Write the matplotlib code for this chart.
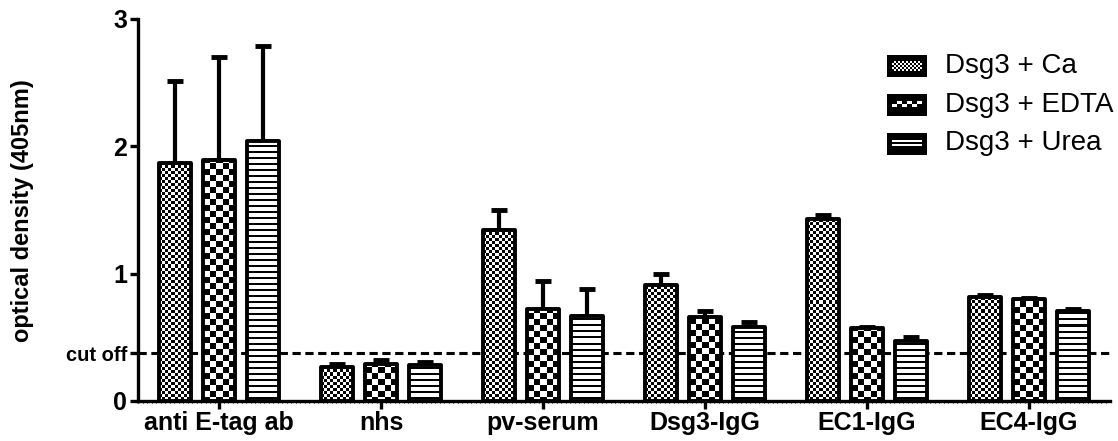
import matplotlib.pyplot as plt
import numpy as np

groups = ['anti E-tag ab', 'nhs', 'pv-serum', 'Dsg3-IgG', 'EC1-IgG', 'EC4-IgG']
series = ['Dsg3 + Ca', 'Dsg3 + EDTA', 'Dsg3 + Urea']
ca = [1.87, 0.27, 1.34, 0.91, 1.43, 0.82]
ca_err = [0.64, 0.02, 0.16, 0.09, 0.03, 0.01]
edta = [1.89, 0.29, 0.72, 0.66, 0.57, 0.80]
edta_err = [0.81, 0.03, 0.22, 0.05, 0.01, 0.01]
urea = [2.04, 0.28, 0.67, 0.58, 0.47, 0.71]
urea_err = [0.75, 0.03, 0.21, 0.04, 0.03, 0.01]
cut_off = 0.375

plt.rcParams['font.family'] = ['Liberation Sans', 'DejaVu Sans']

W, H = 1118, 441
fig = plt.figure(figsize=(W / 100, H / 100), dpi=100)
ax_l, ax_b, ax_r, ax_t = 138, 40, 1110, 422
ax = fig.add_axes([ax_l / W, ax_b / H, (ax_r - ax_l) / W, (ax_t - ax_b) / H])

pw, ph = ax_r - ax_l, ax_t - ax_b
ii, jj = np.mgrid[0:ph, 0:pw]


def checker(c):
    return ((ii // c + jj // c) % 2).astype(float)


def stripes(period, dark):
    return ((ii % period) >= dark).astype(float)


patterns = [checker(3), checker(6), stripes(6, 2)]
values = [ca, edta, urea]
errors = [ca_err, edta_err, urea_err]

x = np.arange(len(groups))
width = 0.2
offsets = [-0.272, 0, 0.272]

ax.axhline(cut_off, color='black', lw=2.2, dashes=(2.7, 1.5), zorder=1)

for k in range(3):
    xs = x + offsets[k]
    ax.errorbar(xs, values[k], yerr=[np.zeros(len(groups)), errors[k]], fmt='none',
                ecolor='black', elinewidth=3, capsize=6, capthick=3.5, zorder=2)
    bars = ax.bar(xs, values[k], width, facecolor='none', edgecolor='black',
                  linewidth=2.8, joinstyle='round', zorder=4)
    for b in bars:
        im = ax.imshow(patterns[k], cmap='gray', vmin=0, vmax=1, extent=(-0.5, 5.5, 0, 3),
                       aspect='auto', interpolation='nearest', origin='upper', zorder=3)
        im.set_clip_path(b)

ax.set_xlim(-0.5, 5.5)
ax.set_ylim(0, 3)

for s in ['top', 'right']:
    ax.spines[s].set_visible(False)
for s in ['left', 'bottom']:
    ax.spines[s].set_linewidth(2.4)

ax.set_xticks(x)
ax.set_xticklabels(groups, fontsize=18, fontweight='bold')
ax.set_xticks(np.arange(-0.5, 5.5, 1 / 36), minor=True)
ax.tick_params(axis='x', which='major', direction='out', length=6, width=2.4, pad=1)
ax.tick_params(axis='x', which='minor', direction='out', length=1.5, width=0.8)

ax.set_yticks([0, cut_off, 1, 2, 3])
ax.set_yticklabels(['0', 'cut off', '1', '2', '3'], fontsize=18, fontweight='bold')
ax.get_yticklabels()[1].set_fontsize(14.5)
ax.tick_params(axis='y', direction='out', length=6, width=2.4, pad=2)

fig.text(23 / W, 1 - 211 / H, 'optical density (405nm)', rotation=90, fontsize=17,
         fontweight='bold', ha='center', va='center')

# legend drawn by hand with small swatch axes
sw_pats = [((np.indices((10, 30)) // 2).sum(axis=0) % 2).astype(float),
           ((np.indices((10, 30)) // 5).sum(axis=0) % 2).astype(float),
           (((np.arange(10) - 2) % 4) < 2).astype(float)[:, None] * np.ones((1, 30))]
sw_pats[1][[0, 1, 8, 9], :] = 0
sw_pats[2][[0, 1, 8, 9], :] = 0

ys = [66, 104.5, 143.5]
for k in range(3):
    sax = fig.add_axes([887 / W, 1 - (ys[k] + 11) / H, 40 / W, 22 / H])
    sax.set_facecolor('black')
    sax.imshow(sw_pats[k], cmap='gray', vmin=0, vmax=1, extent=(5, 35, 6, 16),
               aspect='auto', interpolation='nearest')
    sax.set_xlim(0, 40)
    sax.set_ylim(0, 22)
    sax.set_xticks([])
    sax.set_yticks([])
    for s in sax.spines.values():
        s.set_visible(False)
    fig.text(945 / W, 1 - ys[k] / H, series[k], fontsize=20, ha='left', va='center')

plt.savefig('out.png', dpi=100)
